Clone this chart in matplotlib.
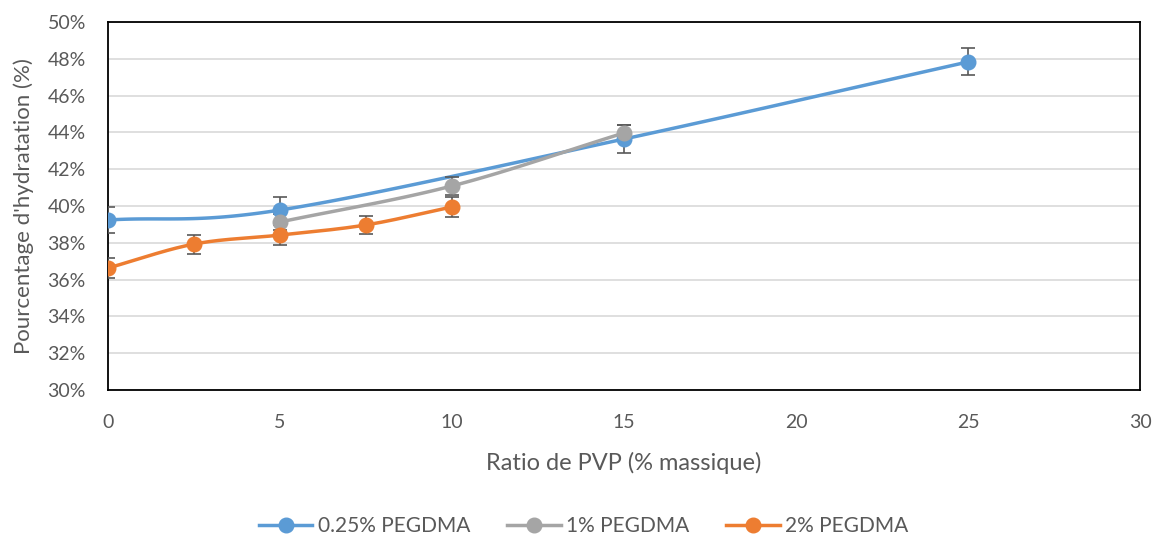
import matplotlib.pyplot as plt
import numpy as np
from matplotlib.ticker import FuncFormatter, MultipleLocator

# data (% hydratation vs % PVP)
x_025 = [0, 5, 15, 25]
y_025 = [39.24, 39.78, 43.64, 47.83]
e_025 = [0.72, 0.70, 0.75, 0.73]

x_1 = [5, 10, 15]
y_1 = [39.13, 41.09, 43.97]
e_1 = [0.45, 0.50, 0.45]

x_2 = [0, 2.5, 5, 7.5, 10]
y_2 = [36.63, 37.93, 38.42, 38.97, 39.95]
e_2 = [0.52, 0.52, 0.55, 0.50, 0.55]

labels = ['0.25% PEGDMA', '1% PEGDMA', '2% PEGDMA']
colors = ['#5B9BD5', '#A5A5A5', '#ED7D31']

TXT = '#595959'
plt.rcParams['font.family'] = ['Lato', 'DejaVu Sans']


def smooth(x, y, n=40):
    # bezier smoothing like a spreadsheet "smoothed line"
    x = np.asarray(x, float)
    y = np.asarray(y, float)
    px = np.concatenate([[2 * x[0] - x[1]], x, [2 * x[-1] - x[-2]]])
    py = np.concatenate([[2 * y[0] - y[1]], y, [2 * y[-1] - y[-2]]])
    xs, ys = [], []
    t = np.linspace(0, 1, n)
    for i in range(1, len(px) - 2):
        p0 = np.array([px[i], py[i]])
        p3 = np.array([px[i + 1], py[i + 1]])
        p1 = p0 + (np.array([px[i + 1], py[i + 1]]) - np.array([px[i - 1], py[i - 1]])) / 6
        p2 = p3 - (np.array([px[i + 2], py[i + 2]]) - np.array([px[i], py[i]])) / 6
        b = ((1 - t) ** 3)[:, None] * p0 + (3 * (1 - t) ** 2 * t)[:, None] * p1 \
            + (3 * (1 - t) * t ** 2)[:, None] * p2 + (t ** 3)[:, None] * p3
        xs.extend(b[:, 0])
        ys.extend(b[:, 1])
    return xs, ys


fig = plt.figure(figsize=(11.58, 5.4), dpi=100)
ax = fig.add_axes([0.0933, 0.2778, 0.8912, 0.6815])

series = [(x_025, y_025, e_025), (x_1, y_1, e_1), (x_2, y_2, e_2)]
handles = []
for (xs, ys, es), lab, col in zip(series, labels, colors):
    sx, sy = smooth(xs, ys)
    ax.plot(sx, sy, color=col, lw=2.5, zorder=3, solid_capstyle='round')
    ax.errorbar(xs, ys, yerr=es, fmt='none', ecolor='#595959', elinewidth=1.2,
                capsize=5, capthick=1.2, zorder=4)
    ax.plot(xs, ys, 'o', color=col, ms=10.5, zorder=5)
    h, = ax.plot([], [], '-o', color=col, lw=2.5, ms=10.5, label=lab)
    handles.append(h)

ax.set_xlim(0, 30)
ax.set_ylim(30, 50)
ax.xaxis.set_major_locator(MultipleLocator(5))
ax.yaxis.set_major_locator(MultipleLocator(2))
ax.yaxis.set_major_formatter(FuncFormatter(lambda v, p: '%d%%' % round(v)))
ax.grid(axis='y', color='#D9D9D9', lw=1.2)
ax.set_axisbelow(True)
for s in ax.spines.values():
    s.set_color('black')
    s.set_linewidth(1.3)
ax.tick_params(length=0, labelsize=14, colors=TXT)
ax.tick_params(axis='y', pad=16)
ax.tick_params(axis='x', pad=17)

ax.set_xlabel('Ratio de PVP (% massique)', fontsize=17, color=TXT, labelpad=15)
ax.set_ylabel("Pourcentage d'hydratation (%)", fontsize=16, color=TXT, labelpad=10)

fig.legend(handles=handles, loc='lower center', bbox_to_anchor=(0.504, -0.028), ncol=3,
           frameon=False, fontsize=15, handlelength=2.55, handletextpad=0.25,
           columnspacing=1.8, labelcolor=TXT)

fig.savefig('out.png', dpi=100)
